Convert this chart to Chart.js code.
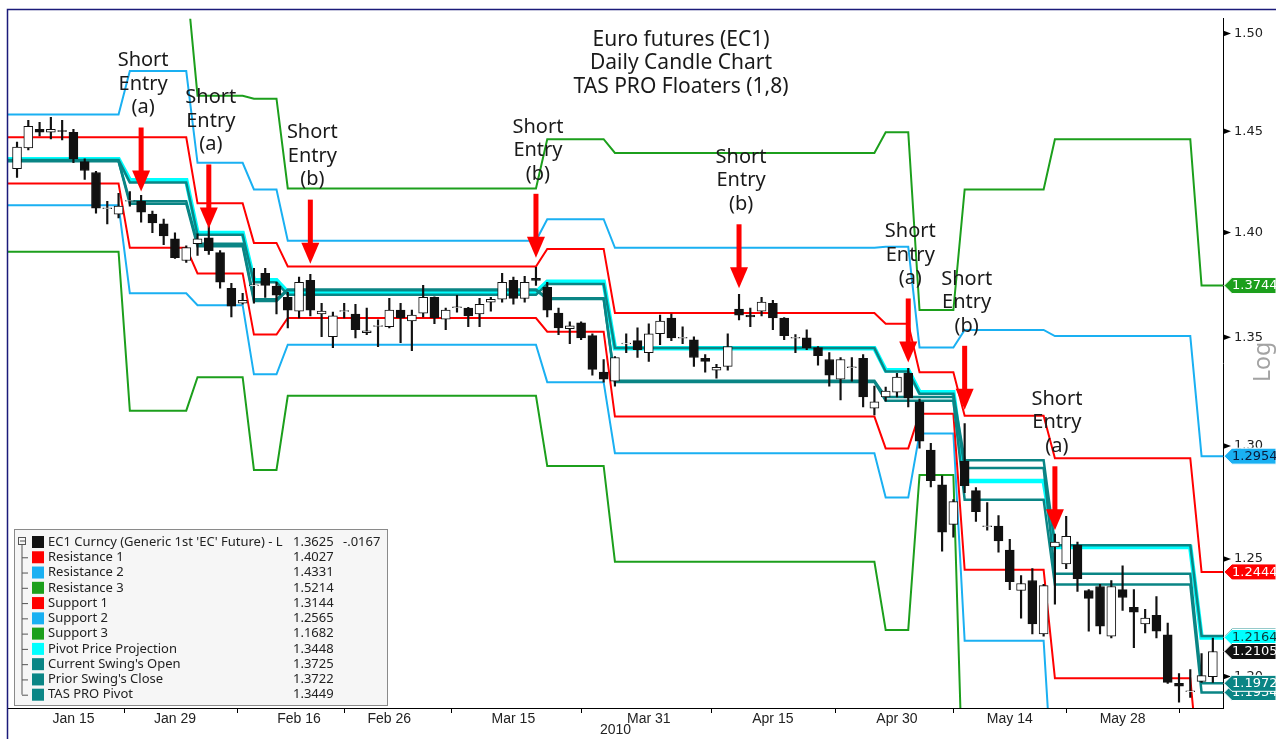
<!DOCTYPE html>
<html>
<head>
<meta charset="utf-8">
<script src="https://cdn.jsdelivr.net/npm/chart.js@4.4.1/dist/chart.umd.min.js"></script>
<style>
  html, body { margin: 0; padding: 0; background: #fff; }
  #wrap { position: relative; width: 1276px; height: 739px; }
</style>
</head>
<body>
<div id="wrap"><canvas id="chart" width="1276" height="739"></canvas></div>
<script>
// ----- Daily candles (EC1) -----
const opens = [
  1.4313, 1.4416, 1.4510, 1.4495, 1.4503, 1.4495, 1.4348, 1.4294, 1.4116, 1.4089,
  1.4152, 1.4152, 1.4089, 1.4041, 1.3969, 1.3864, 1.3945, 1.3974, 1.3902, 1.3731,
  1.3660, 1.3743, 1.3802, 1.3741, 1.3688, 1.3623, 1.3769, 1.3609, 1.3502, 1.3621,
  1.3609, 1.3521, 1.3551, 1.3549, 1.3627, 1.3576, 1.3613, 1.3688, 1.3585, 1.3639,
  1.3637, 1.3609, 1.3665, 1.3679, 1.3769, 1.3683, 1.3779, 1.3736, 1.3613, 1.3540,
  1.3567, 1.3507, 1.3337, 1.3296, 1.3468, 1.3484, 1.3428, 1.3516, 1.3590, 1.3495,
  1.3488, 1.3401, 1.3346, 1.3364, 1.3632, 1.3604, 1.3623, 1.3660, 1.3590, 1.3495,
  1.3497, 1.3451, 1.3396, 1.3305, 1.3358, 1.3401, 1.3172, 1.3223, 1.3245, 1.3332,
  1.3200, 1.2981, 1.2826, 1.2651, 1.2932, 1.2800, 1.2641, 1.2643, 1.2539, 1.2364,
  1.2407, 1.2179, 1.2552, 1.2479, 1.2560, 1.2364, 1.2381, 1.2170, 1.2368, 1.2292,
  1.2221, 1.2258, 1.2175, 1.1972, 1.1937, 1.1980, 1.2000
];
const highs = [
  1.4446, 1.4555, 1.4545, 1.4570, 1.4555, 1.4510, 1.4362, 1.4300, 1.4152, 1.4191,
  1.4200, 1.4181, 1.4104, 1.4065, 1.3998, 1.3935, 1.3993, 1.4031, 1.3912, 1.3755,
  1.3707, 1.3826, 1.3826, 1.3760, 1.3712, 1.3784, 1.3798, 1.3660, 1.3618, 1.3660,
  1.3655, 1.3637, 1.3581, 1.3683, 1.3660, 1.3627, 1.3745, 1.3690, 1.3637, 1.3698,
  1.3641, 1.3683, 1.3688, 1.3802, 1.3784, 1.3788, 1.3831, 1.3760, 1.3637, 1.3572,
  1.3572, 1.3516, 1.3396, 1.3410, 1.3516, 1.3544, 1.3563, 1.3604, 1.3609, 1.3549,
  1.3502, 1.3419, 1.3373, 1.3516, 1.3702, 1.3637, 1.3688, 1.3674, 1.3592, 1.3512,
  1.3535, 1.3456, 1.3428, 1.3405, 1.3405, 1.3419, 1.3273, 1.3268, 1.3332, 1.3355,
  1.3213, 1.3012, 1.2866, 1.2760, 1.3101, 1.2813, 1.2747, 1.2690, 1.2586, 1.2428,
  1.2458, 1.2390, 1.2608, 1.2686, 1.2573, 1.2368, 1.2390, 1.2407, 1.2470, 1.2368,
  1.2283, 1.2338, 1.2225, 1.2013, 1.2029, 1.2096, 1.2162
];
const lows = [
  1.4269, 1.4406, 1.4476, 1.4461, 1.4456, 1.4343, 1.4260, 1.4094, 1.4041, 1.4070,
  1.4128, 1.4050, 1.3998, 1.3940, 1.3874, 1.3855, 1.3888, 1.3893, 1.3731, 1.3595,
  1.3655, 1.3660, 1.3688, 1.3609, 1.3544, 1.3590, 1.3600, 1.3502, 1.3451, 1.3590,
  1.3497, 1.3512, 1.3456, 1.3544, 1.3474, 1.3437, 1.3595, 1.3563, 1.3535, 1.3618,
  1.3549, 1.3549, 1.3623, 1.3665, 1.3655, 1.3665, 1.3745, 1.3595, 1.3512, 1.3470,
  1.3488, 1.3323, 1.3291, 1.3273, 1.3428, 1.3405, 1.3387, 1.3465, 1.3484, 1.3470,
  1.3364, 1.3337, 1.3309, 1.3346, 1.3581, 1.3549, 1.3600, 1.3535, 1.3488, 1.3428,
  1.3442, 1.3369, 1.3273, 1.3209, 1.3296, 1.3177, 1.3141, 1.3204, 1.3223, 1.3177,
  1.2990, 1.2817, 1.2534, 1.2595, 1.2791, 1.2664, 1.2625, 1.2530, 1.2368, 1.2246,
  1.2179, 1.2170, 1.2305, 1.2458, 1.2360, 1.2191, 1.2179, 1.2162, 1.2279, 1.2121,
  1.2183, 1.2162, 1.1972, 1.1894, 1.1914, 1.1976, 1.1976
];
const closes = [
  1.4421, 1.4525, 1.4495, 1.4510, 1.4499, 1.4362, 1.4304, 1.4118, 1.4120, 1.4128,
  1.4155, 1.4099, 1.4046, 1.3983, 1.3878, 1.3926, 1.3969, 1.3912, 1.3760, 1.3646,
  1.3674, 1.3747, 1.3745, 1.3698, 1.3627, 1.3760, 1.3627, 1.3623, 1.3600, 1.3625,
  1.3535, 1.3530, 1.3555, 1.3627, 1.3590, 1.3604, 1.3688, 1.3590, 1.3627, 1.3643,
  1.3600, 1.3655, 1.3679, 1.3760, 1.3683, 1.3760, 1.3769, 1.3627, 1.3544, 1.3553,
  1.3497, 1.3350, 1.3305, 1.3405, 1.3472, 1.3442, 1.3516, 1.3576, 1.3497, 1.3499,
  1.3405, 1.3387, 1.3360, 1.3456, 1.3604, 1.3595, 1.3665, 1.3590, 1.3507, 1.3499,
  1.3451, 1.3414, 1.3323, 1.3396, 1.3362, 1.3223, 1.3200, 1.3250, 1.3314, 1.3218,
  1.3021, 1.2844, 1.2617, 1.2751, 1.2822, 1.2707, 1.2645, 1.2578, 1.2402, 1.2394,
  1.2221, 1.2385, 1.2573, 1.2599, 1.2415, 1.2330, 1.2212, 1.2381, 1.2334, 1.2271,
  1.2246, 1.2191, 1.1976, 1.1960, 1.1941, 1.2004, 1.2105
];

// ----- Trading calendar -----
const firstDay = "2010-01-08";
const skipDays = ["2010-01-18", "2010-02-15", "2010-05-31"];
const monthNames = ["Jan","Feb","Mar","Apr","May","Jun","Jul","Aug","Sep","Oct","Nov","Dec"];
const xTickLabels = ["Jan 15","Jan 29","Feb 16","Feb 26","Mar 15","Mar 31","Apr 15","Apr 30","May 14","May 28"];
const yTicks = [1.20, 1.25, 1.30, 1.35, 1.40, 1.45, 1.50];

// ----- Floater levels: last day of each plateau, then one level per plateau -----
const plateauEnds = [9, 15, 20, 23, 46, 52, 76, 79, 83, 91, 104, 107];
const resistance1 = [1.4470, 1.4470, 1.4142, 1.3949, 1.3835, 1.3920, 1.3614, 1.3563, 1.3337, 1.3137, 1.2945, 1.2444];
const resistance2 = [1.4585, 1.4806, 1.4342, 1.4210, 1.3959, 1.4064, 1.3925, 1.3930, 1.3452, 1.3534, 1.3505, 1.2954];
const resistance3 = [1.5300, 1.5300, 1.4680, 1.4665, 1.4215, 1.4460, 1.4391, 1.4495, 1.3628, 1.4210, 1.4460, 1.3744];
const support1    = [1.4239, 1.3925, 1.3802, 1.3512, 1.3590, 1.3526, 1.3133, 1.2989, 1.3146, 1.2453, 1.1993, 1.1500];
const support2    = [1.4132, 1.3707, 1.3651, 1.3327, 1.3465, 1.3291, 1.2967, 1.2769, 1.3056, 1.2150, 1.1400, 1.1400];
const support3    = [1.3906, 1.3160, 1.3314, 1.2892, 1.3228, 1.2910, 1.2488, 1.2196, 1.2870, 1.1300, 1.1300, 1.1300];
const projection  = [1.4360, 1.4256, 1.3997, 1.3769, 1.3712, 1.3762, 1.3448, 1.3346, 1.3245, 1.2843, 1.2552, 1.2164];
const tasPivot    = [1.4356, 1.4245, 1.3988, 1.3760, 1.3700, 1.3752, 1.3449, 1.3340, 1.3238, 1.2936, 1.2560, 1.2170];
const swingOpen   = [1.4352, 1.4152, 1.3945, 1.3679, 1.3725, 1.3684, 1.3298, 1.3223, 1.3223, 1.2901, 1.2436, 1.1972];
const swingClose  = [1.4350, 1.4140, 1.3933, 1.3670, 1.3722, 1.3680, 1.3292, 1.3205, 1.3205, 1.2760, 1.2390, 1.1934];

// ----- Short entry notes: day index, price at arrow tip, tag -----
const noteDays = [11, 17, 26, 46, 64, 79, 84, 92];
const notePrices = [1.4200, 1.4019, 1.3849, 1.3877, 1.3731, 1.3382, 1.3164, 1.2625];
const noteTags = ["a", "a", "b", "b", "b", "a", "b", "a"];

// ----- Legend box -----
const legendNames = ["EC1 Curncy (Generic 1st 'EC' Future) - L", "Resistance 1", "Resistance 2", "Resistance 3",
  "Support 1", "Support 2", "Support 3", "Pivot Price Projection", "Current Swing's Open", "Prior Swing's Close", "TAS PRO Pivot"];
const legendValues = [1.3625, 1.4027, 1.4331, 1.5214, 1.3144, 1.2565, 1.1682, 1.3448, 1.3725, 1.3722, 1.3449];
const legendChange = "-.0167";

const RED = "#ff0000", BLUE = "#1ab0f2", GREEN = "#1c9f1c", CYAN = "#00ffff", TEAL = "#0a8585";
const legendColors = ["#111", RED, BLUE, GREEN, RED, BLUE, GREEN, CYAN, TEAL, TEAL, TEAL];

function buildDays(n) {
  const out = [];
  const d = new Date(firstDay + "T00:00:00Z");
  while (out.length < n) {
    const iso = d.toISOString().slice(0, 10);
    const wd = d.getUTCDay();
    if (wd !== 0 && wd !== 6 && !skipDays.includes(iso)) {
      out.push(monthNames[d.getUTCMonth()] + " " + d.getUTCDate());
    }
    d.setUTCDate(d.getUTCDate() + 1);
  }
  return out;
}
const dayLabels = buildDays(opens.length);
const tickDays = xTickLabels.map(l => dayLabels.indexOf(l));

function stepPoints(levels) {
  const pts = [];
  levels.forEach((v, k) => {
    const start = k === 0 ? -1 : plateauEnds[k - 1] + 1;
    pts.push({ x: start, y: v }, { x: plateauEnds[k], y: v });
  });
  return pts;
}

function levelSet(label, levels, color, width, order) {
  return {
    type: "line", label, data: stepPoints(levels), borderColor: color, borderWidth: width,
    pointRadius: 0, tension: 0, fill: false, order
  };
}

const bodies = opens.map((o, i) => ({ x: i, y: [o, closes[i]] }));
const wicks = lows.map((l, i) => ({ x: i, y: [l, highs[i]] }));
const bodyFill = opens.map((o, i) => closes[i] >= o ? "#ffffff" : "#111111");

// ----- Overlays: frame, ticks, title, notes, value flags, legend -----
const overlay = {
  id: "overlay",
  afterDraw(chart) {
    const ctx = chart.ctx;
    const xs = chart.scales.x, ys = chart.scales.y;
    const area = chart.chartArea;
    const px = v => xs.getPixelForValue(v);
    const py = v => ys.getPixelForValue(v);
    ctx.save();

    // frame
    ctx.strokeStyle = "#1b1b7a";
    ctx.lineWidth = 1.5;
    ctx.beginPath();
    ctx.moveTo(area.left - 0.5, 739); ctx.lineTo(area.left - 0.5, 9.5); ctx.lineTo(1276, 9.5);
    ctx.stroke();

    // x tick marks between date labels
    ctx.strokeStyle = "#000"; ctx.lineWidth = 1;
    const marks = [];
    for (let k = 1; k < tickDays.length; k++) marks.push((tickDays[k - 1] + tickDays[k]) / 2);
    marks.push(tickDays[tickDays.length - 1] + (tickDays[tickDays.length - 1] - tickDays[tickDays.length - 2]) / 2);
    marks.forEach(m => {
      const x = Math.round(px(m)) + 0.5;
      ctx.beginPath(); ctx.moveTo(x, area.bottom); ctx.lineTo(x, area.bottom + 5); ctx.stroke();
    });

    // y tick pointers
    ctx.fillStyle = "#000";
    yTicks.forEach(v => {
      const y = py(v);
      ctx.beginPath(); ctx.moveTo(area.right, y - 3); ctx.lineTo(area.right + 8, y); ctx.lineTo(area.right, y + 3);
      ctx.closePath(); ctx.fill();
    });

    // title
    ctx.fillStyle = "#1a1a1a";
    ctx.font = '21px "Noto Sans", sans-serif';
    ctx.textAlign = "center"; ctx.textBaseline = "middle";
    ["Euro futures (EC1)", "Daily Candle Chart", "TAS PRO Floaters (1,8)"].forEach((t, j) => ctx.fillText(t, 681, 40 + j * 23.5));

    // short entry arrows
    ctx.font = '20px "Noto Sans", sans-serif';
    noteDays.forEach((d, k) => {
      const x = px(d), tip = py(notePrices[k]);
      const top = tip - 64;
      ctx.fillStyle = RED;
      ctx.fillRect(x - 2.5, top, 5, 46);
      ctx.beginPath();
      ctx.moveTo(x - 9, tip - 21); ctx.lineTo(x + 9, tip - 21); ctx.lineTo(x, tip);
      ctx.closePath(); ctx.fill();
      ctx.fillStyle = "#1a1a1a";
      ["Short", "Entry", "(" + noteTags[k] + ")"].forEach((t, j) => ctx.fillText(t, x + 2, top - 20 - (2 - j) * 23.5));
    });

    // "Log" label
    ctx.save();
    ctx.translate(1263, 362); ctx.rotate(-Math.PI / 2);
    ctx.fillStyle = "#a3a3a3"; ctx.font = '23px "Noto Sans", sans-serif';
    ctx.fillText("Log", 0, 0);
    ctx.restore();

    // value flags on the right axis
    const last = a => a[a.length - 1];
    const flags = [
      [last(resistance3), GREEN, "#fff"], [last(resistance2), BLUE, "#0a1a3a"], [last(resistance1), RED, "#fff"],
      [last(tasPivot), TEAL, "#fff"], [last(projection), CYAN, "#0a3a3a"], [last(closes), "#111", "#fff"],
      [last(swingClose), TEAL, "#fff"], [last(swingOpen), TEAL, "#fff"]
    ];
    ctx.font = '13px "DejaVu Sans", sans-serif';
    ctx.textAlign = "left";
    flags.forEach(([v, bg, fg]) => {
      const y = py(v), x0 = area.right + 1;
      ctx.fillStyle = bg;
      ctx.strokeStyle = "#ffffff"; ctx.lineWidth = 1;
      ctx.beginPath();
      ctx.moveTo(x0, y); ctx.lineTo(x0 + 8, y - 8); ctx.lineTo(1276, y - 8); ctx.lineTo(1276, y + 8); ctx.lineTo(x0 + 8, y + 8);
      ctx.closePath(); ctx.fill(); ctx.stroke();
      ctx.fillStyle = fg;
      ctx.fillText(v.toFixed(4), x0 + 8, y + 0.5);
    });

    // legend box
    const bx = 14.5, by = 529.5, bw = 373, bh = 176, row = 15.27, r0 = 542;
    ctx.fillStyle = "#f6f6f6"; ctx.fillRect(bx, by, bw, bh);
    ctx.strokeStyle = "#8a8a8a"; ctx.lineWidth = 1; ctx.strokeRect(bx, by, bw, bh);
    ctx.strokeStyle = "#555";
    ctx.strokeRect(18.5, r0 - 4.5, 7, 7);
    ctx.beginPath(); ctx.moveTo(20, r0 - 1); ctx.lineTo(25, r0 - 1); ctx.stroke();
    ctx.beginPath(); ctx.moveTo(22, r0 + 3); ctx.lineTo(22, r0 + 10 * row); ctx.stroke();
    ctx.font = '13px "Noto Sans", sans-serif';
    ctx.textBaseline = "middle";
    legendNames.forEach((name, k) => {
      const y = r0 + k * row;
      if (k > 0) { ctx.strokeStyle = "#555"; ctx.beginPath(); ctx.moveTo(22, y + 0.5); ctx.lineTo(28, y + 0.5); ctx.stroke(); }
      ctx.fillStyle = legendColors[k]; ctx.fillRect(32, y - 6, 12, 12);
      ctx.fillStyle = "#222";
      ctx.fillText(name, 48, y);
      ctx.fillText(legendValues[k].toFixed(4), 293, y);
    });
    ctx.fillText(legendChange, 343, r0);
    ctx.restore();
  }
};

new Chart(document.getElementById("chart"), {
  data: {
    datasets: [
      levelSet("Resistance 3", resistance3, GREEN, 2, 20),
      levelSet("Support 3", support3, GREEN, 2, 20),
      levelSet("Resistance 2", resistance2, BLUE, 2, 19),
      levelSet("Support 2", support2, BLUE, 2, 19),
      levelSet("Resistance 1", resistance1, RED, 2, 18),
      levelSet("Support 1", support1, RED, 2, 18),
      levelSet("Pivot Price Projection", projection, CYAN, 4.5, 17),
      levelSet("Current Swing's Open", swingOpen, TEAL, 2.5, 16),
      levelSet("Prior Swing's Close", swingClose, TEAL, 2.5, 16),
      levelSet("TAS PRO Pivot", tasPivot, TEAL, 2.5, 16),
      {
        type: "bar", label: "wick", data: wicks, backgroundColor: "#111", borderWidth: 0,
        barThickness: 1.5, grouped: false, order: 2
      },
      {
        type: "bar", label: "EC1 Curncy", data: bodies, backgroundColor: bodyFill, borderColor: "#111",
        borderWidth: 1, borderSkipped: false, barThickness: 9, grouped: false, order: 1
      }
    ]
  },
  options: {
    responsive: false,
    animation: false,
    events: [],
    layout: { padding: { left: 8, top: 10, right: 0, bottom: 0 } },
    plugins: { legend: { display: false }, tooltip: { enabled: false }, title: { display: false } },
    scales: {
      x: {
        type: "linear", min: -0.8, max: 106.9, offset: false,
        afterBuildTicks: s => { s.ticks = tickDays.map(v => ({ value: v })); },
        afterFit: s => { s.height = 31; },
        ticks: {
          autoSkip: false, maxRotation: 0, padding: 3, color: "#222",
          font: { family: "Liberation Sans", size: 14 },
          callback: v => dayLabels[v]
        },
        grid: { drawOnChartArea: false, drawTicks: false, offset: false },
        border: { display: true, color: "#000", width: 1 },
        title: { display: true, text: "2010", color: "#222", padding: { top: 0, bottom: 0 }, font: { family: "Liberation Sans", size: 14 } }
      },
      y: {
        type: "logarithmic", position: "right", min: 1.187, max: 1.5077,
        afterBuildTicks: s => { s.ticks = yTicks.map(v => ({ value: v })); },
        afterFit: s => { s.width = 53; },
        ticks: {
          padding: 11, color: "#222",
          font: { family: "DejaVu Sans", size: 13 },
          callback: v => Number(v).toFixed(2)
        },
        grid: { drawOnChartArea: false, drawTicks: false },
        border: { display: true, color: "#000", width: 1 }
      }
    }
  },
  plugins: [overlay]
});
</script>
</body>
</html>
